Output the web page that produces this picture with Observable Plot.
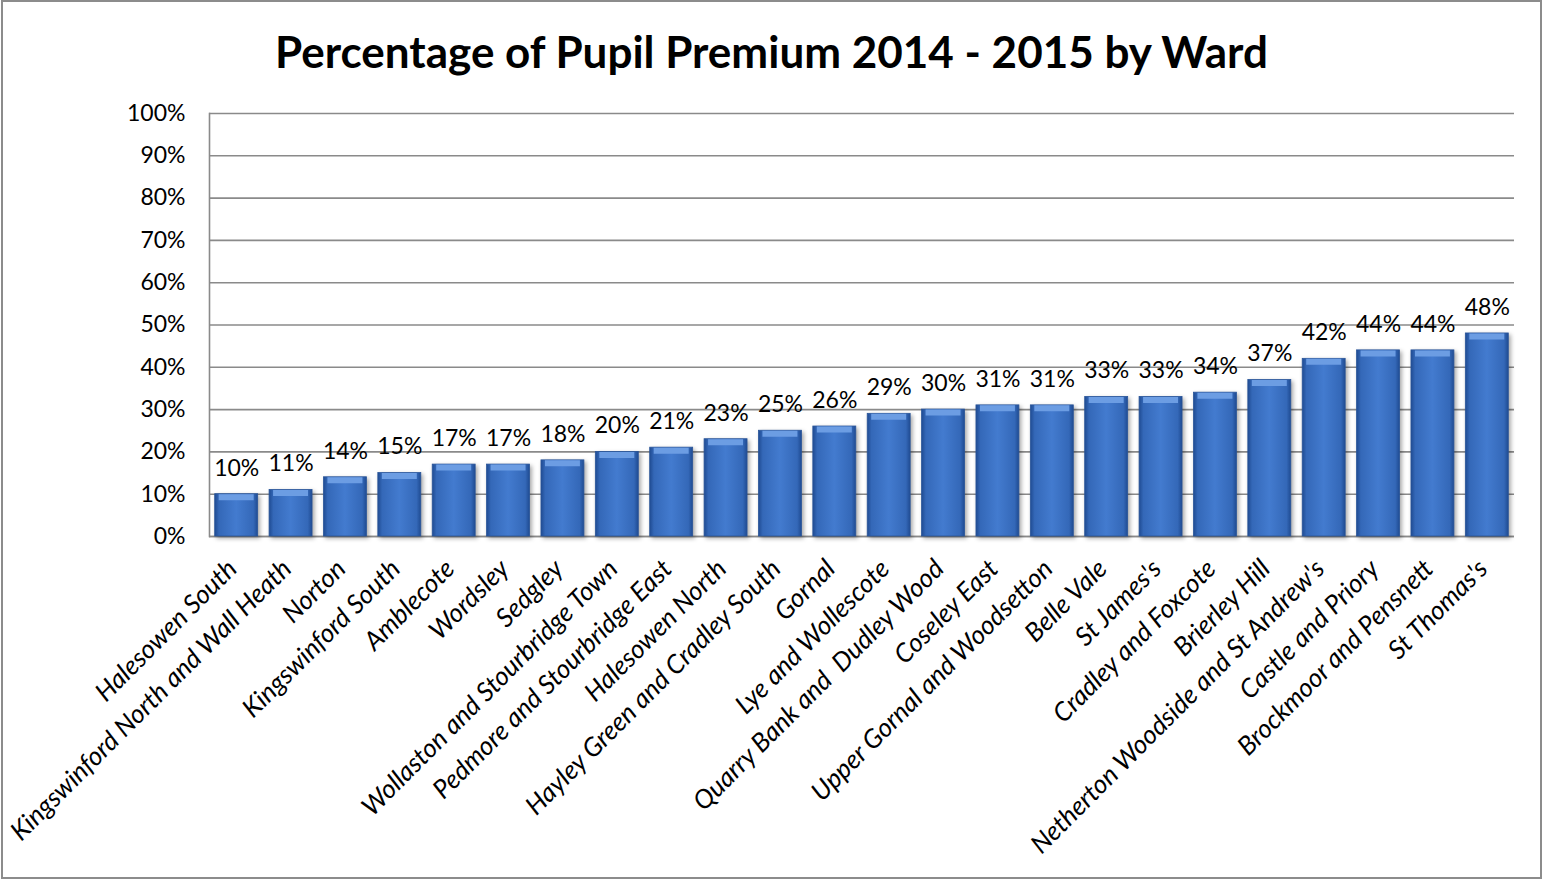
<!DOCTYPE html>
<html><head><meta charset="utf-8">
<script src="https://cdn.jsdelivr.net/npm/d3@7"></script>
<script src="https://cdn.jsdelivr.net/npm/@observablehq/plot@0.6"></script>
<style>
body{margin:0;background:#fff;}
#frame{position:absolute;left:1px;top:0;width:1541px;height:879px;border:2px solid #8c8c8c;box-sizing:border-box;background:#fff;}
#title{height:68px;padding-top:24px;line-height:50px;text-align:center;font-family:Lato,"Open Sans",sans-serif;font-weight:700;font-size:44px;color:#000;white-space:nowrap;}
#chart svg{display:block;overflow:visible;}
</style></head><body>
<div id="frame"><div id="title">Percentage of Pupil Premium 2014 - 2015 by Ward</div><div id="chart"></div></div>
<script>
const wards = [
  "Halesowen South",
  "Kingswinford North and Wall Heath",
  "Norton",
  "Kingswinford South",
  "Amblecote",
  "Wordsley",
  "Sedgley",
  "Wollaston and Stourbridge Town",
  "Pedmore and Stourbridge East",
  "Halesowen North",
  "Hayley Green and Cradley South",
  "Gornal",
  "Lye and Wollescote",
  "Quarry Bank and  Dudley Wood",
  "Coseley East",
  "Upper Gornal and Woodsetton",
  "Belle Vale",
  "St James's",
  "Cradley and Foxcote",
  "Brierley Hill",
  "Netherton Woodside and St Andrew's",
  "Castle and Priory",
  "Brockmoor and Pensnett",
  "St Thomas's"
];
const percents = [10, 11, 14, 15, 17, 17, 18, 20, 21, 23, 25, 26, 29, 30, 31, 31, 33, 33, 34, 37, 42, 44, 44, 48];
const yTicks = [0, 10, 20, 30, 40, 50, 60, 70, 80, 90, 100];

const data = wards.map((w, i) => ({ward: w, pct: percents[i]}));
const pctFmt = v => `${v}%`;

const defs = () => {
  const d = d3.create("svg:defs");
  const g = d.append("linearGradient").attr("id", "barGrad")
    .attr("x1", "0").attr("x2", "1").attr("y1", "0").attr("y2", "0");
  [["0%", "#1f4b92"], ["10%", "#3468b8"], ["50%", "#437bcf"], ["90%", "#3468b8"], ["100%", "#1f4b92"]]
    .forEach(([o, c]) => g.append("stop").attr("offset", o).attr("stop-color", c));
  return d.node();
};

const plot = Plot.plot({
  width: 1537,
  height: 783,
  marginTop: 19,
  marginBottom: 341,
  marginLeft: 206,
  marginRight: 26,
  style: {fontFamily: "Lato, 'Open Sans', sans-serif", fontSize: "23px", color: "#000", background: "transparent", overflow: "visible"},
  x: {domain: wards, paddingInner: 0.21, paddingOuter: 0.105, round: false, label: null},
  y: {domain: [0, 100], label: null},
  marks: [
    defs,
    Plot.gridY(yTicks, {stroke: "#8a8a8a", strokeOpacity: 1, strokeWidth: 1.6}),
    Plot.frame({anchor: "left", stroke: "#8a8a8a", strokeWidth: 1.6}),
    Plot.ruleY([0], {stroke: "#8a8a8a", strokeWidth: 1.6}),
    Plot.barY(data, {x: "ward", y: "pct", fill: "url(#barGrad)", stroke: "#2a5599", strokeWidth: 0.8}),
    Plot.tickY(data, {x: "ward", y: "pct", stroke: "#6c9de3", strokeWidth: 6, dy: 3, insetLeft: 4, insetRight: 4}),
    Plot.text(data, {x: "ward", y: "pct", text: d => pctFmt(d.pct), dy: -26, fill: "#000", fontSize: 23}),
    Plot.axisY(yTicks, {tickSize: 0, tickPadding: 24, tickFormat: pctFmt, fontSize: 23, fill: "#000"}),
    Plot.axisX({tickSize: 0, tickPadding: 28, dx: -4, tickRotate: -45, fontSize: 26, fontStyle: "italic", fill: "#000"})
  ]
});
d3.select(plot).selectAll('g[aria-label="bar"]').style("filter", "drop-shadow(2px 2px 2px rgba(0,0,0,0.35))");
document.getElementById("chart").appendChild(plot);
</script>
</body></html>
